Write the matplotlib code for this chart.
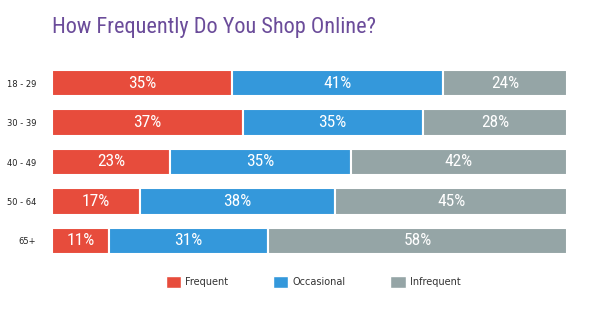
import matplotlib.pyplot as plt
from matplotlib.patches import Patch
import numpy as np

ages = ['18 - 29', '30 - 39', '40 - 49', '50 - 64', '65+']
frequent = [35, 37, 23, 17, 11]
occasional = [41, 35, 35, 38, 31]
infrequent = [24, 28, 42, 45, 58]
series_names = ['Frequent', 'Occasional', 'Infrequent']
colors = ['#E74C3C', '#3498DB', '#95A5A6']

narrow = ['Roboto Condensed', 'Liberation Sans Narrow', 'DejaVu Sans']

fig = plt.figure(figsize=(6, 3.15), dpi=100)
ax = fig.add_axes([52 / 600, (315 - 254) / 315, 515 / 600, 184 / 315])

y = np.arange(len(ages))
left = np.zeros(len(ages))
for vals, color in zip([frequent, occasional, infrequent], colors):
    ax.barh(y, vals, left=left, height=0.66, color=color,
            edgecolor='white', linewidth=1.5)
    for yi, l, v in zip(y, left, vals):
        ax.text(l + v / 2, yi, f'{v}%', ha='center', va='center',
                color='white', fontsize=12.5, family=narrow,
                fontstretch='condensed')
    left += vals

ax.set_xlim(0, 100)
ax.set_ylim(len(ages) - 1 + 0.33, -0.33)
ax.set_yticks(y)
ax.set_yticklabels(ages, fontsize=6, color='#222222')
ax.tick_params(left=False, bottom=False, labelbottom=False, pad=8)
for s in ax.spines.values():
    s.set_visible(False)

fig.text(52 / 600, 1 - 28 / 315, 'How Frequently Do You Shop Online?',
         color='#6B4C9A', fontsize=16, family=narrow, fontstretch='condensed',
         va='center')

handles = [Patch(facecolor=c, edgecolor='white') for c in colors]
fig.legend(handles, series_names, loc='center', ncol=3,
           bbox_to_anchor=(313 / 600, 1 - 282 / 315), frameon=False,
           fontsize=7, handlelength=1.6, handleheight=1.6,
           columnspacing=4.6, handletextpad=0.4, labelcolor='#333333')

fig.savefig('out.png', dpi=100)
